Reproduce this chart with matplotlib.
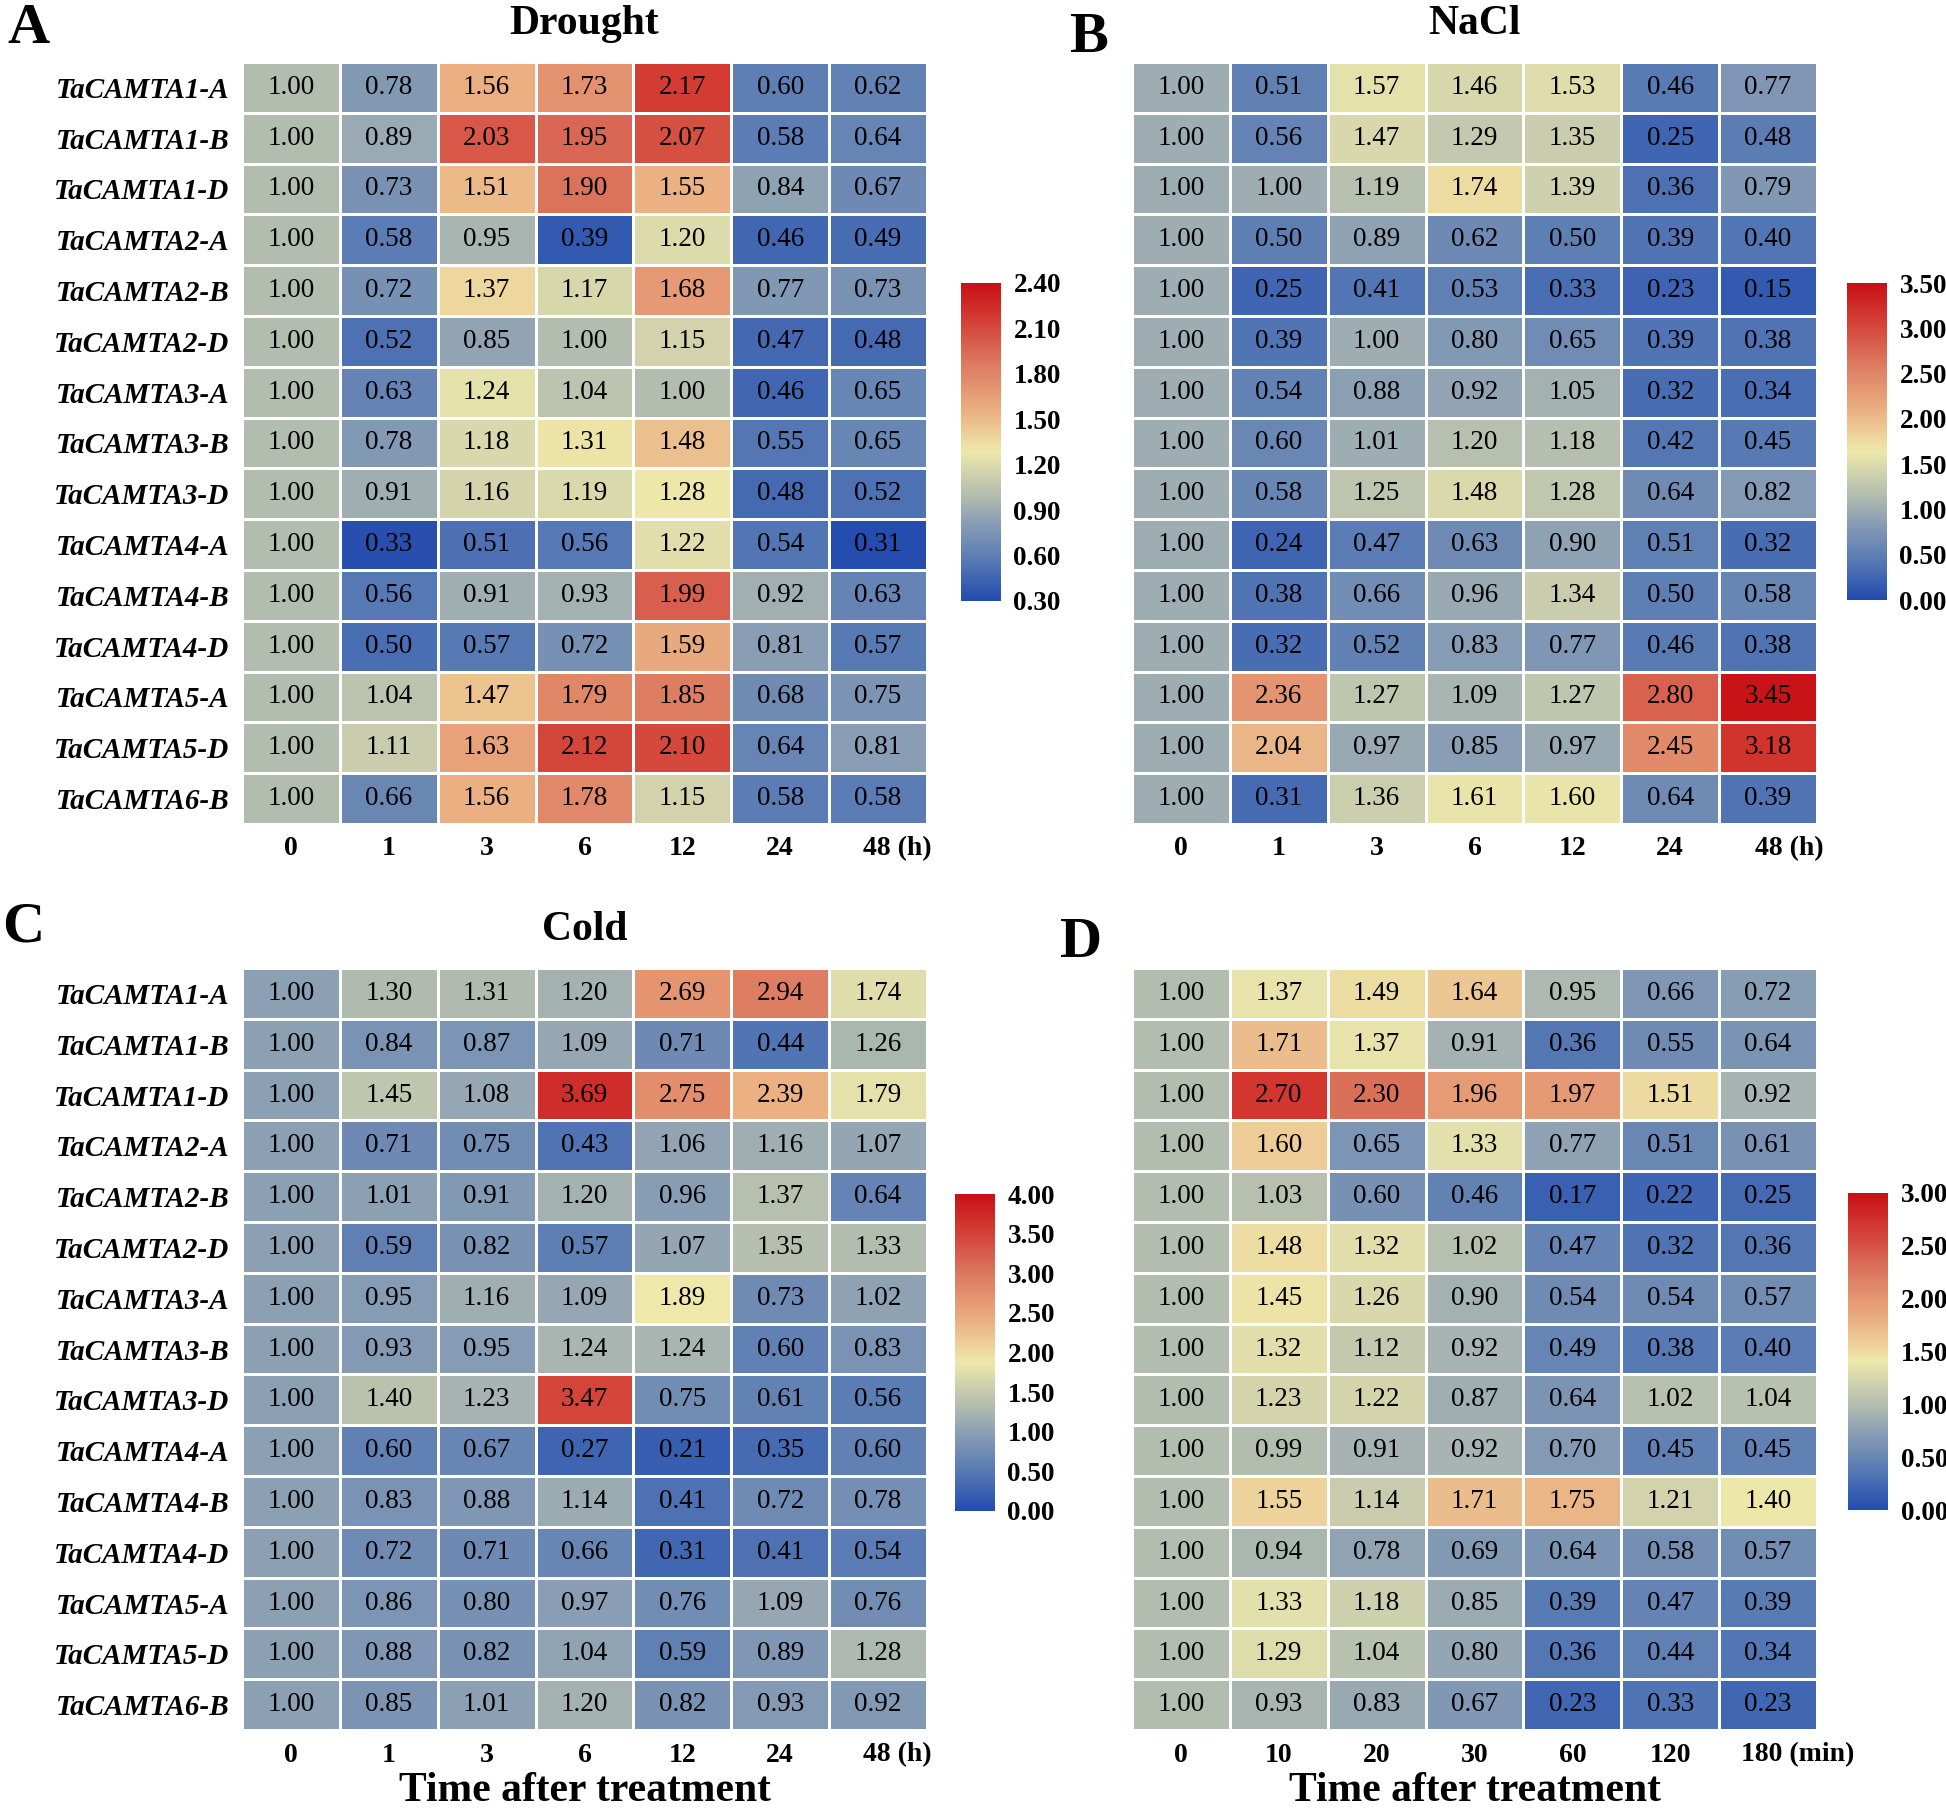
import numpy as np
import matplotlib
matplotlib.use("Agg")
import matplotlib.pyplot as plt
from matplotlib.colors import LinearSegmentedColormap

plt.rcParams['font.family'] = ['Liberation Serif', 'DejaVu Serif']

W, H = 1946, 1809

genes = ['TaCAMTA1-A', 'TaCAMTA1-B', 'TaCAMTA1-D', 'TaCAMTA2-A', 'TaCAMTA2-B',
         'TaCAMTA2-D', 'TaCAMTA3-A', 'TaCAMTA3-B', 'TaCAMTA3-D', 'TaCAMTA4-A',
         'TaCAMTA4-B', 'TaCAMTA4-D', 'TaCAMTA5-A', 'TaCAMTA5-D', 'TaCAMTA6-B']

hours = ['0', '1', '3', '6', '12', '24', '48']
minutes = ['0', '10', '20', '30', '60', '120', '180']

drought = [
    [1.00, 0.78, 1.56, 1.73, 2.17, 0.60, 0.62],
    [1.00, 0.89, 2.03, 1.95, 2.07, 0.58, 0.64],
    [1.00, 0.73, 1.51, 1.90, 1.55, 0.84, 0.67],
    [1.00, 0.58, 0.95, 0.39, 1.20, 0.46, 0.49],
    [1.00, 0.72, 1.37, 1.17, 1.68, 0.77, 0.73],
    [1.00, 0.52, 0.85, 1.00, 1.15, 0.47, 0.48],
    [1.00, 0.63, 1.24, 1.04, 1.00, 0.46, 0.65],
    [1.00, 0.78, 1.18, 1.31, 1.48, 0.55, 0.65],
    [1.00, 0.91, 1.16, 1.19, 1.28, 0.48, 0.52],
    [1.00, 0.33, 0.51, 0.56, 1.22, 0.54, 0.31],
    [1.00, 0.56, 0.91, 0.93, 1.99, 0.92, 0.63],
    [1.00, 0.50, 0.57, 0.72, 1.59, 0.81, 0.57],
    [1.00, 1.04, 1.47, 1.79, 1.85, 0.68, 0.75],
    [1.00, 1.11, 1.63, 2.12, 2.10, 0.64, 0.81],
    [1.00, 0.66, 1.56, 1.78, 1.15, 0.58, 0.58],
]

nacl = [
    [1.00, 0.51, 1.57, 1.46, 1.53, 0.46, 0.77],
    [1.00, 0.56, 1.47, 1.29, 1.35, 0.25, 0.48],
    [1.00, 1.00, 1.19, 1.74, 1.39, 0.36, 0.79],
    [1.00, 0.50, 0.89, 0.62, 0.50, 0.39, 0.40],
    [1.00, 0.25, 0.41, 0.53, 0.33, 0.23, 0.15],
    [1.00, 0.39, 1.00, 0.80, 0.65, 0.39, 0.38],
    [1.00, 0.54, 0.88, 0.92, 1.05, 0.32, 0.34],
    [1.00, 0.60, 1.01, 1.20, 1.18, 0.42, 0.45],
    [1.00, 0.58, 1.25, 1.48, 1.28, 0.64, 0.82],
    [1.00, 0.24, 0.47, 0.63, 0.90, 0.51, 0.32],
    [1.00, 0.38, 0.66, 0.96, 1.34, 0.50, 0.58],
    [1.00, 0.32, 0.52, 0.83, 0.77, 0.46, 0.38],
    [1.00, 2.36, 1.27, 1.09, 1.27, 2.80, 3.45],
    [1.00, 2.04, 0.97, 0.85, 0.97, 2.45, 3.18],
    [1.00, 0.31, 1.36, 1.61, 1.60, 0.64, 0.39],
]

cold = [
    [1.00, 1.30, 1.31, 1.20, 2.69, 2.94, 1.74],
    [1.00, 0.84, 0.87, 1.09, 0.71, 0.44, 1.26],
    [1.00, 1.45, 1.08, 3.69, 2.75, 2.39, 1.79],
    [1.00, 0.71, 0.75, 0.43, 1.06, 1.16, 1.07],
    [1.00, 1.01, 0.91, 1.20, 0.96, 1.37, 0.64],
    [1.00, 0.59, 0.82, 0.57, 1.07, 1.35, 1.33],
    [1.00, 0.95, 1.16, 1.09, 1.89, 0.73, 1.02],
    [1.00, 0.93, 0.95, 1.24, 1.24, 0.60, 0.83],
    [1.00, 1.40, 1.23, 3.47, 0.75, 0.61, 0.56],
    [1.00, 0.60, 0.67, 0.27, 0.21, 0.35, 0.60],
    [1.00, 0.83, 0.88, 1.14, 0.41, 0.72, 0.78],
    [1.00, 0.72, 0.71, 0.66, 0.31, 0.41, 0.54],
    [1.00, 0.86, 0.80, 0.97, 0.76, 1.09, 0.76],
    [1.00, 0.88, 0.82, 1.04, 0.59, 0.89, 1.28],
    [1.00, 0.85, 1.01, 1.20, 0.82, 0.93, 0.92],
]

panel_d = [
    [1.00, 1.37, 1.49, 1.64, 0.95, 0.66, 0.72],
    [1.00, 1.71, 1.37, 0.91, 0.36, 0.55, 0.64],
    [1.00, 2.70, 2.30, 1.96, 1.97, 1.51, 0.92],
    [1.00, 1.60, 0.65, 1.33, 0.77, 0.51, 0.61],
    [1.00, 1.03, 0.60, 0.46, 0.17, 0.22, 0.25],
    [1.00, 1.48, 1.32, 1.02, 0.47, 0.32, 0.36],
    [1.00, 1.45, 1.26, 0.90, 0.54, 0.54, 0.57],
    [1.00, 1.32, 1.12, 0.92, 0.49, 0.38, 0.40],
    [1.00, 1.23, 1.22, 0.87, 0.64, 1.02, 1.04],
    [1.00, 0.99, 0.91, 0.92, 0.70, 0.45, 0.45],
    [1.00, 1.55, 1.14, 1.71, 1.75, 1.21, 1.40],
    [1.00, 0.94, 0.78, 0.69, 0.64, 0.58, 0.57],
    [1.00, 1.33, 1.18, 0.85, 0.39, 0.47, 0.39],
    [1.00, 1.29, 1.04, 0.80, 0.36, 0.44, 0.34],
    [1.00, 0.93, 0.83, 0.67, 0.23, 0.33, 0.23],
]

# blue - grey - pale yellow - red
nodes = [(0.00, (35, 75, 175)), (0.12, (85, 120, 180)), (0.25, (140, 160, 180)),
         (0.33, (178, 188, 175)), (0.47, (238, 232, 170)), (0.60, (235, 175, 130)),
         (0.75, (220, 120, 95)), (0.90, (210, 55, 48)), (1.00, (200, 15, 20))]
cmap = LinearSegmentedColormap.from_list(
    'camta', [(p, tuple(c / 255 for c in rgb)) for p, rgb in nodes])


def box(x0, y0, x1, y1):
    return [x0 / W, 1 - y1 / H, (x1 - x0) / W, (y1 - y0) / H]


fig = plt.figure(figsize=(W / 100, H / 100), dpi=100)


def draw_panel(rect, crect, data, vmin, vmax, cticks, xlabels, unit, unit_shift,
               title=None, rows=True, xlabel=False):
    ax = fig.add_axes(box(*rect))
    cax = fig.add_axes(box(*crect))
    arr = np.array(data)
    nr, nc = arr.shape
    mesh = ax.pcolormesh(arr, cmap=cmap, vmin=vmin, vmax=vmax,
                         edgecolors='white', linewidth=2)
    ax.set_xlim(0, nc)
    ax.set_ylim(nr, 0)
    for i in range(nr):
        for j in range(nc):
            ax.text(j + 0.5, i + 0.5, f'{arr[i, j]:.2f}', ha='center', va='center',
                    fontsize=19.5, color='black')
    for s in ax.spines.values():
        s.set_visible(False)
    xt = list(np.arange(nc) + 0.5)
    xt[-1] += unit_shift
    labs = list(xlabels)
    labs[-1] = labs[-1] + ' ' + unit
    ax.set_xticks(xt)
    ax.set_xticklabels(labs, fontsize=20, fontweight='bold')
    ax.tick_params(axis='both', length=0)
    ax.tick_params(axis='x', pad=9)
    if rows:
        ax.set_yticks(np.arange(nr) + 0.5)
        ax.set_yticklabels(genes, fontsize=21, fontweight='bold', fontstyle='italic')
        ax.tick_params(axis='y', pad=9)
    else:
        ax.set_yticks([])
    if title:
        ax.set_title(title, fontsize=30, fontweight='bold', pad=20)
    if xlabel:
        ax.set_xlabel('Time after treatment', fontsize=30, fontweight='bold', labelpad=3)

    cb = fig.colorbar(mesh, cax=cax, ticks=cticks)
    cb.outline.set_visible(False)
    cb.ax.set_yticklabels([f'{t:.2f}' for t in cticks], fontsize=19.5, fontweight='bold')
    cb.ax.tick_params(length=0, pad=9)
    return ax


draw_panel((242, 62, 927, 824), (961, 283, 1001, 601), drought, 0.3, 2.4,
           [0.3, 0.6, 0.9, 1.2, 1.5, 1.8, 2.1, 2.4], hours, '(h)', 0.2,
           title='Drought')
draw_panel((1132, 62, 1817, 824), (1847, 283, 1887, 600), nacl, 0.0, 3.5,
           [0.0, 0.5, 1.0, 1.5, 2.0, 2.5, 3.0, 3.5], hours, '(h)', 0.22,
           title='NaCl', rows=False)
draw_panel((242, 968, 927, 1730), (955, 1194, 995, 1511), cold, 0.0, 4.0,
           [0.0, 0.5, 1.0, 1.5, 2.0, 2.5, 3.0, 3.5, 4.0], hours, '(h)', 0.2,
           title='Cold', xlabel=True)
draw_panel((1132, 968, 1817, 1730), (1848, 1193, 1888, 1510), panel_d, 0.0, 3.0,
           [0.0, 0.5, 1.0, 1.5, 2.0, 2.5, 3.0], minutes, '(min)', 0.3,
           rows=False, xlabel=True)

for letter, x, y in [('A', 7, 43), ('B', 1069, 52), ('C', 2, 942), ('D', 1060, 957)]:
    fig.text(x / W, 1 - y / H, letter, fontsize=42, fontweight='bold',
             ha='left', va='baseline')

fig.savefig('out.png', dpi=100)
